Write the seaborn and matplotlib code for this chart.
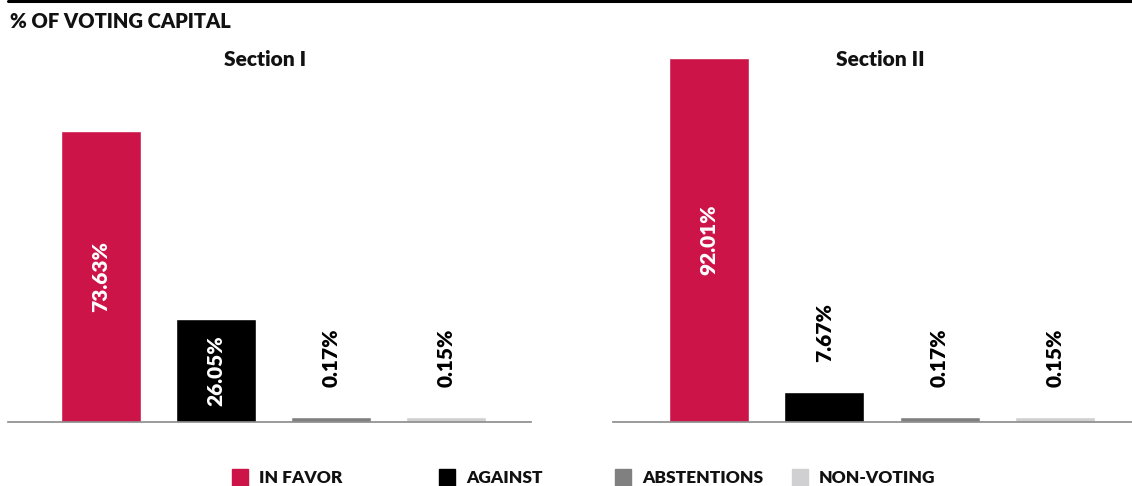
import matplotlib
matplotlib.use("Agg")
import matplotlib.pyplot as plt
import seaborn as sns
import pandas as pd
import numpy as np
from matplotlib.patches import Rectangle
from matplotlib.lines import Line2D

categories = ["IN FAVOR", "AGAINST", "ABSTENTIONS", "NON-VOTING"]
section_titles = ["Section I", "Section II"]
section1_values = [73.63, 26.05, 0.17, 0.15]
section2_values = [92.01, 7.67, 0.17, 0.15]
colors = ["#CC1449", "#000000", "#808080", "#D0D0D2"]

sns.set_theme(style="white")
plt.rcParams["font.family"] = ["Lato", "DejaVu Sans"]
WEIGHT = 800

W, H = 1132, 486
fig = plt.figure(figsize=(W / 100, H / 100), dpi=100)

min_visible = 1.3  # minimum drawn height so tiny values stay visible
ax_specs = [
    (8, 523, (-0.81, 3.74), section1_values, section_titles[0], 265),
    (613, 519, (-0.835, 3.67), section2_values, section_titles[1], 880),
]
bottom_px = 422
height_px = 373
for left_px, width_px, xlim, vals, title, title_x in ax_specs:
    ax = fig.add_axes([left_px / W, (H - bottom_px) / H, width_px / W, height_px / H])
    df = pd.DataFrame({"cat": categories, "val": vals,
                       "shown": np.maximum(vals, min_visible)})
    sns.barplot(data=df, x="cat", y="shown", hue="cat", palette=colors,
                order=categories, hue_order=categories, legend=False,
                width=0.696, saturation=1, ax=ax)
    ax.set_xlim(*xlim)
    ax.set_ylim(0, 94.3)
    ax.set_xlabel("")
    ax.set_ylabel("")
    ax.set_xticks([])
    ax.set_yticks([])
    for s in ["top", "left", "right"]:
        ax.spines[s].set_visible(False)
    ax.spines["bottom"].set_color("#8a8a8a")
    ax.spines["bottom"].set_linewidth(1.2)
    for i, (v, sh) in enumerate(zip(vals, df["shown"])):
        label = f"{v:.2f}%"
        if v > 15:
            ax.text(i, sh / 2, label, rotation=90, ha="center", va="center",
                    color="white", fontsize=15, fontweight=WEIGHT)
        else:
            ax.annotate(label, (i, sh), xytext=(0, 30), textcoords="offset pixels",
                        rotation=90, ha="center", va="bottom",
                        color="black", fontsize=15, fontweight=WEIGHT)
    fig.text(title_x / W, 1 - 60 / H, title, ha="center", va="center",
             fontsize=15, fontweight=WEIGHT, color="#111111")

# top rule and header
fig.add_artist(Line2D([8 / W, 1], [1 - 1.5 / H, 1 - 1.5 / H], color="black", lw=2.2))
fig.text(10 / W, 1 - 21 / H, "% OF VOTING CAPITAL", ha="left", va="center",
         fontsize=14.5, fontweight=WEIGHT, color="#111111")

# legend
legend_sq_x = [232, 439, 615, 792]
for cat, col, sx in zip(categories, colors, legend_sq_x):
    fig.add_artist(Rectangle((sx / W, (H - 486) / H), 16 / W, 17 / H,
                             color=col, transform=fig.transFigure))
    fig.text((sx + 27) / W, 1 - 478 / H, cat, ha="left", va="center",
             fontsize=12.5, fontweight=WEIGHT, color="#111111")

fig.savefig("out.png", dpi=100)
